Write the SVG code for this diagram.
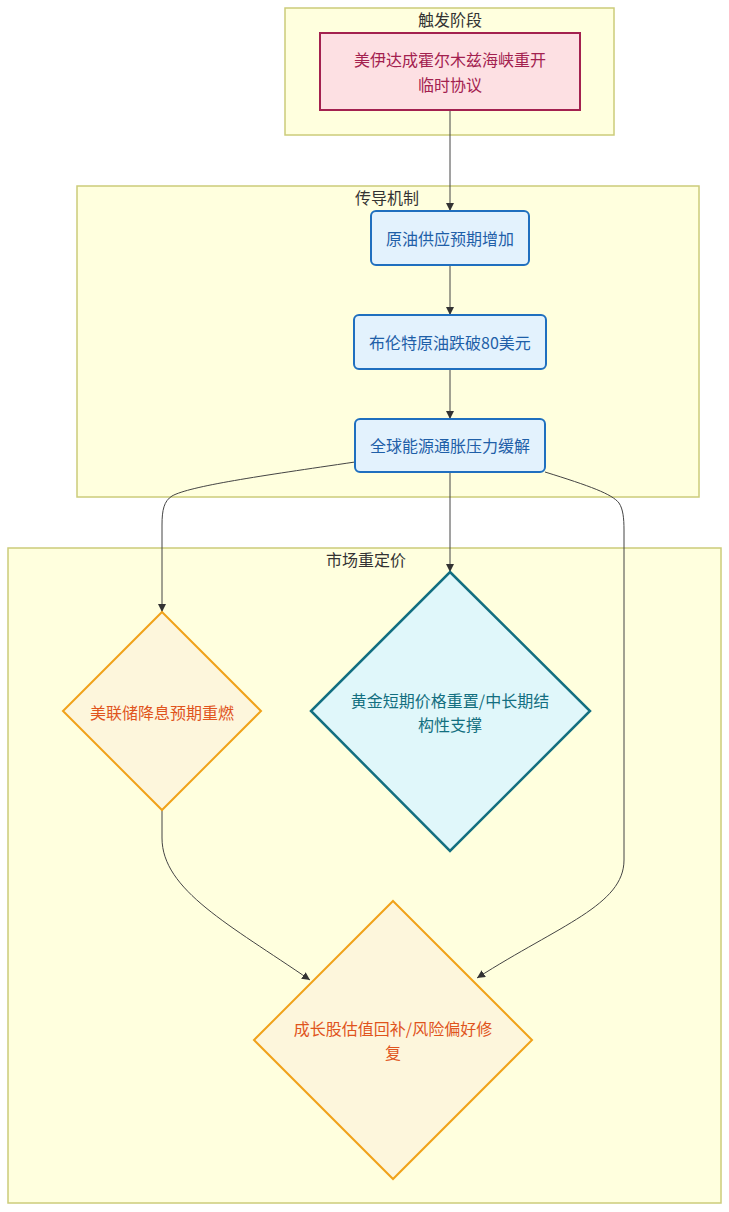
<svg xmlns="http://www.w3.org/2000/svg" width="729" height="1212" viewBox="0 0 729 1212">
<style>
text{font-family:"Noto Sans CJK SC","Liberation Sans",sans-serif;font-size:16px;text-anchor:middle;dominant-baseline:central}
.cl{fill:#ffffde;stroke:#cccc7a;stroke-width:1.5}
.ct{fill:#333}
.trig{fill:#fde0e3;stroke:#a3214f;stroke-width:2}
.trigt{fill:#a3214f}
.mech{fill:#e3f2fd;stroke:#1f6fbf;stroke-width:2}
.mecht{fill:#1f5fa8}
.fed{fill:#fdf6dc;stroke:#f0a21a;stroke-width:2}
.fedt{fill:#e0541c}
.gold{fill:#e0f7fa;stroke:#136f80;stroke-width:2.5}
.goldt{fill:#136f80}
.e{fill:none;stroke:#444;stroke-width:1}
</style>
<defs>
<marker id="ah" viewBox="0 0 10 10" refX="10" refY="5" markerWidth="8" markerHeight="8" markerUnits="userSpaceOnUse" orient="auto">
<path d="M0,0 L10,5 L0,10 z" fill="#333"/>
</marker>
</defs>
<g id="cluster-trigger"><rect class="cl" x="285" y="8" width="329" height="127"/><text class="ct" x="450" y="19">触发阶段</text></g>
<g id="cluster-mechanism"><rect class="cl" x="77" y="186" width="622" height="311"/><text class="ct" x="387" y="197">传导机制</text></g>
<g id="cluster-market"><rect class="cl" x="8" y="548" width="713" height="655"/><text class="ct" x="366" y="559">市场重定价</text></g>
<g id="connectors">
<path class="e" d="M450,110 L450,211" marker-end="url(#ah)"/>
<path class="e" d="M450,265 L450,315" marker-end="url(#ah)"/>
<path class="e" d="M450,369 L450,419" marker-end="url(#ah)"/>
<path class="e" d="M355,462 C260,476 190,486 172,496 C164,501 162,510 162,525 L162,612" marker-end="url(#ah)"/>
<path class="e" d="M450,472 L450,572" marker-end="url(#ah)"/>
<path class="e" d="M545,472 C590,486 612,494 619,503 C623,509 624,518 624,530 L624,860 C624,905 560,925 477,978" marker-end="url(#ah)"/>
<path class="e" d="M162,810 L162,838 C162,890 230,925 310,980" marker-end="url(#ah)"/>
</g>
<g id="node-A"><rect class="trig" x="320" y="33" width="260" height="77"/><text class="trigt" x="450" y="59">美伊达成霍尔木兹海峡重开</text><text class="trigt" x="450" y="84">临时协议</text></g>
<g id="node-B"><rect class="mech" x="371" y="211" width="158" height="54" rx="5"/><text class="mecht" x="450" y="238">原油供应预期增加</text></g>
<g id="node-C"><rect class="mech" x="354" y="315" width="192" height="54" rx="5"/><text class="mecht" x="450" y="342">布伦特原油跌破80美元</text></g>
<g id="node-D"><rect class="mech" x="355" y="419" width="190" height="53" rx="5"/><text class="mecht" x="450" y="445">全球能源通胀压力缓解</text></g>
<g id="node-E"><polygon class="fed" points="162,612 261,711 162,810 63,711"/><text class="fedt" x="162" y="712">美联储降息预期重燃</text></g>
<g id="node-F"><polygon class="gold" points="450,572 590,711 450,851 311,711"/><text class="goldt" x="450" y="700">黄金短期价格重置/中长期结</text><text class="goldt" x="450" y="724">构性支撑</text></g>
<g id="node-G"><polygon class="fed" points="393,901 532,1040 393,1179 254,1040"/><text class="fedt" x="393" y="1028">成长股估值回补/风险偏好修</text><text class="fedt" x="393" y="1052">复</text></g>
</svg>
